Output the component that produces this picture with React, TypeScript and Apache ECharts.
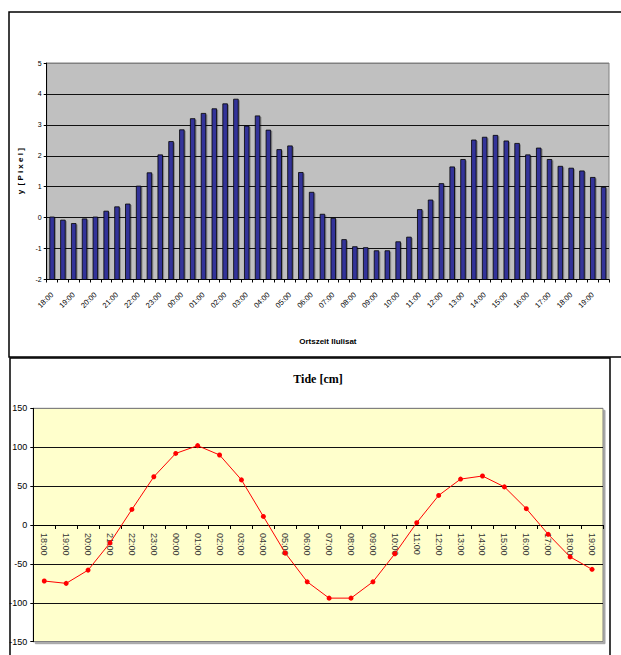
import React, { useEffect, useRef } from "react";
import * as echarts from "echarts";

// Top chart: half-hourly categories (labels shown every full hour)
const halfHourCategories = [
  "18:00","18:30","19:00","19:30","20:00","20:30","21:00","21:30","22:00","22:30",
  "23:00","23:30","00:00","00:30","01:00","01:30","02:00","02:30","03:00","03:30",
  "04:00","04:30","05:00","05:30","06:00","06:30","07:00","07:30","08:00","08:30",
  "09:00","09:30","10:00","10:30","11:00","11:30","12:00","12:30","13:00","13:30",
  "14:00","14:30","15:00","15:30","16:00","16:30","17:00","17:30","18:00","18:30",
  "19:00","19:30",
];
const pixelValues = [
  0.02, -0.08, -0.19, -0.04, 0.02, 0.21, 0.35, 0.44, 1.02, 1.45,
  2.03, 2.46, 2.84, 3.2, 3.37, 3.52, 3.68, 3.83, 2.96, 3.29,
  2.83, 2.2, 2.32, 1.46, 0.82, 0.11, -0.02, -0.71, -0.94, -0.97,
  -1.07, -1.07, -0.78, -0.63, 0.26, 0.57, 1.1, 1.64, 1.88, 2.51,
  2.6, 2.66, 2.48, 2.4, 2.03, 2.25, 1.88, 1.66, 1.6, 1.51,
  1.3, 0.98,
];
const pixelAxisMin = -2;
const pixelAxisMax = 5;

// Bottom chart: hourly tide
const hourCategories = [
  "18:00","19:00","20:00","21:00","22:00","23:00","00:00","01:00","02:00","03:00",
  "04:00","05:00","06:00","07:00","08:00","09:00","10:00","11:00","12:00","13:00",
  "14:00","15:00","16:00","17:00","18:00","19:00",
];
const tideValues = [
  -72, -75, -58, -23, 20, 62, 92, 102, 90, 58,
  11, -36, -73, -94, -94, -73, -37, 3, 38, 59,
  63, 49, 21, -12, -41, -57,
];

const topTitleX = "Ortszeit Ilulisat";
const topTitleY = "y  [ P i x e l ]";
const bottomTitle = "Tide [cm]";

export default function App() {
  const ref = useRef<HTMLDivElement>(null);
  useEffect(() => {
    if (!ref.current) return;
    const chart = echarts.init(ref.current, undefined, { renderer: "svg" });
    const sans = "Liberation Sans, Arial, sans-serif";
    const bottomGridTop = 408.3;
    const bottomGridHeight = 233.4;
    // distance from grid bottom (-150) up to the 0 line
    const zeroOffset = -bottomGridHeight / 2;
    chart.setOption({
      animation: false,
      backgroundColor: "#ffffff",
      graphic: [
        {
          type: "rect",
          z: -10,
          shape: { x: 9, y: 12, width: 700, height: 345 },
          style: { fill: "none", stroke: "#000", lineWidth: 1.5 },
        },
        {
          type: "rect",
          z: -10,
          shape: { x: 10, y: 358, width: 600, height: 400 },
          style: { fill: "none", stroke: "#000", lineWidth: 1.5 },
        },
        {
          type: "text",
          x: 318,
          y: 379,
          style: {
            text: bottomTitle,
            fill: "#000",
            font: "bold 12px 'Liberation Serif', 'Times New Roman', serif",
            textAlign: "center",
            textVerticalAlign: "middle",
          },
        },
      ],
      grid: [
        {
          left: 46.7,
          top: 63,
          width: 562.3,
          height: 216.5,
          show: true,
          backgroundColor: "#C0C0C0",
          borderColor: "#808080",
          borderWidth: 1,
          containLabel: false,
          outerBoundsMode: "none",
        },
        {
          left: 33.3,
          top: bottomGridTop,
          width: 569.7,
          height: bottomGridHeight,
          show: true,
          backgroundColor: "#FFFFCC",
          borderColor: "#808080",
          borderWidth: 1,
          shadowColor: "rgba(0,0,0,0.35)",
          shadowOffsetX: 2,
          shadowOffsetY: 2,
          shadowBlur: 1,
          containLabel: false,
          outerBoundsMode: "none",
        },
      ],
      xAxis: [
        {
          type: "category",
          gridIndex: 0,
          data: halfHourCategories,
          boundaryGap: true,
          name: topTitleX,
          nameLocation: "middle",
          nameGap: 58,
          nameTextStyle: { fontFamily: sans, fontSize: 8, fontWeight: "bold", color: "#000" },
          axisLine: { onZero: false, lineStyle: { color: "#000", width: 1 } },
          axisTick: { show: true, interval: 0, length: 3, lineStyle: { color: "#000" } },
          axisLabel: {
            interval: 1,
            rotate: 45,
            fontSize: 7.5,
            fontFamily: sans,
            color: "#000",
            margin: 14,
          },
          splitLine: { show: false },
        },
        {
          type: "category",
          gridIndex: 1,
          data: hourCategories,
          boundaryGap: true,
          position: "bottom",
          offset: zeroOffset,
          axisLine: { onZero: false, lineStyle: { color: "#000", width: 1 } },
          axisTick: { show: true, interval: 0, length: 4, lineStyle: { color: "#000" } },
          axisLabel: {
            interval: 0,
            rotate: -90,
            fontSize: 9,
            fontFamily: sans,
            color: "#333",
            margin: 8,
          },
          splitLine: { show: false },
        },
      ],
      yAxis: [
        {
          type: "value",
          gridIndex: 0,
          min: pixelAxisMin,
          max: pixelAxisMax,
          interval: 1,
          name: topTitleY,
          nameLocation: "middle",
          nameGap: 19,
          nameRotate: 90,
          nameTextStyle: { fontFamily: sans, fontSize: 8, fontWeight: "bold", color: "#000" },
          axisLine: { show: true, lineStyle: { color: "#000", width: 1 } },
          axisTick: { show: true, length: 3, lineStyle: { color: "#000" } },
          axisLabel: { fontSize: 7, fontFamily: sans, color: "#000", margin: 5 },
          splitLine: {
            show: true,
            lineStyle: {
              color: ["#000", "#111", "#111", "#111", "#111", "#111", "#111", "#808080"],
              width: 1,
            },
          },
        },
        {
          type: "value",
          gridIndex: 1,
          min: -150,
          max: 150,
          interval: 50,
          axisLine: { show: true, lineStyle: { color: "#000", width: 1 } },
          axisTick: { show: true, length: 3, lineStyle: { color: "#000" } },
          axisLabel: { fontSize: 9, fontFamily: sans, color: "#000", margin: 6 },
          splitLine: {
            show: true,
            lineStyle: {
              color: ["#808080", "#111", "#111", "#111", "#111", "#111", "#808080"],
              width: 1,
            },
          },
        },
      ],
      series: [
        {
          type: "custom",
          xAxisIndex: 0,
          yAxisIndex: 0,
          data: pixelValues.map((v, i) => [i, v]),
          encode: { x: 0, y: 1 },
          renderItem: (params: any, api: any) => {
            const i = api.value(0);
            const v = api.value(1);
            const top = api.coord([i, v]);
            const base = api.coord([i, pixelAxisMin]);
            const w = 4.6;
            const x = top[0] - w / 2;
            const h = base[1] - top[1];
            return {
              type: "group",
              children: [
                {
                  type: "rect",
                  shape: { x: x + 1.6, y: top[1] + 1, width: w, height: h - 1 },
                  style: { fill: "rgba(0,0,0,0.28)" },
                },
                {
                  type: "rect",
                  shape: { x, y: top[1], width: w, height: h },
                  style: { fill: "#333399", stroke: "#000", lineWidth: 0.8 },
                },
              ],
            };
          },
        },
        {
          type: "line",
          xAxisIndex: 1,
          yAxisIndex: 1,
          data: tideValues,
          symbol: "circle",
          symbolSize: 5,
          lineStyle: { color: "#FF0000", width: 1 },
          itemStyle: { color: "#FF0000" },
          z: 5,
        },
      ],
    });
    return () => chart.dispose();
  }, []);
  return (
    <div
      ref={ref}
      style={{ position: "absolute", left: 0, top: 0, width: 621, height: 655 }}
    />
  );
}
